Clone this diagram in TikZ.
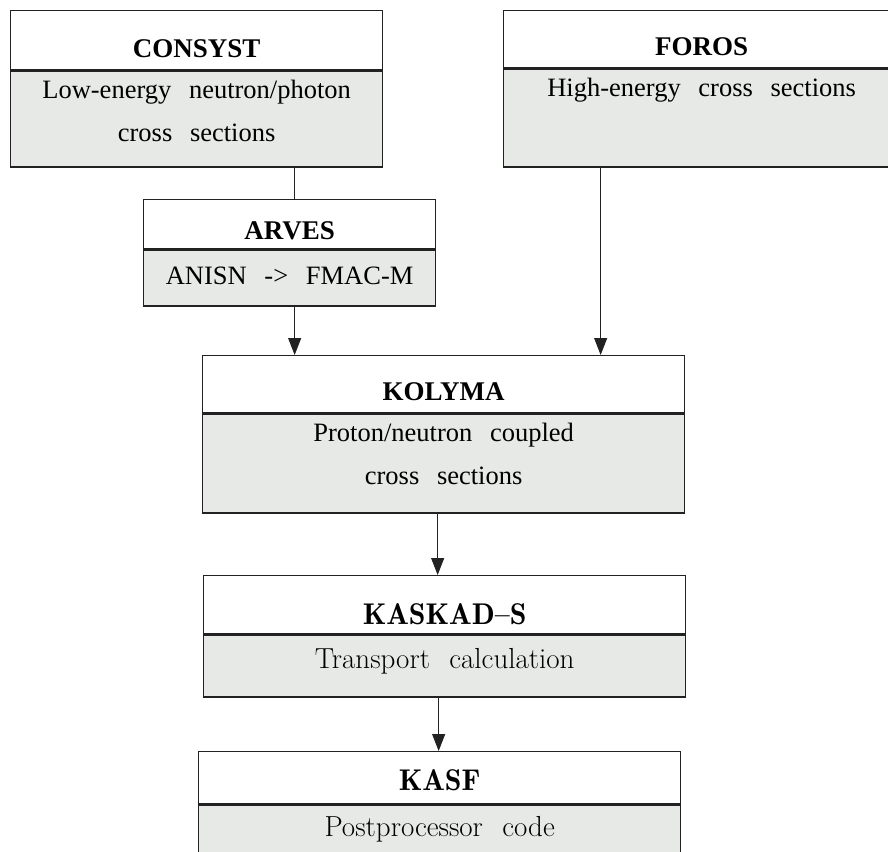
\documentclass[tikz,border=0pt]{standalone}
\usepackage{fontspec}
\setmainfont{Liberation Serif}
\usetikzlibrary{positioning, arrows.meta}

\definecolor{boxgrey}{RGB}{230,233,229}
\definecolor{edgegrey}{RGB}{34,34,34}

\tikzset{
 head/.style={draw=edgegrey, line width=1.3pt, fill=white, inner sep=0pt, align=center, font=\fontsize{27}{30}\selectfont\bfseries},
 body/.style={draw=edgegrey, line width=1.3pt, fill=boxgrey, inner sep=0pt, align=center, text height=28pt, font=\fontsize{26.5}{43}\selectfont},
 lmhead/.style={head, font=\fontsize{30}{30}\fontfamily{lmr}\selectfont\bfseries},
 lmbody/.style={body, font=\fontsize{29}{43}\fontfamily{lmr}\selectfont},
 conn/.style={draw=edgegrey, line width=1pt},
 arr/.style={conn, -{Triangle[length=17pt,width=13pt]}},
}

\begin{document}
\begin{tikzpicture}[x=1pt, y=-1pt]
\useasboundingbox (0,0) rectangle (888,851);
\clip (0,0) rectangle (888,851);

% top row
\node[head, text width=372pt, text height=47pt, text depth=12pt, anchor=north west] (consysth) at (10,10) {CONSYST};
\node[body, text width=372pt, text depth=68pt, below=0pt of consysth] (consystb) {Low-energy~ neutron/photon\\cross~ sections};

\node[head, text width=396pt, text height=45pt, text depth=12pt, anchor=north west] (forosh) at (503,10) {FOROS};
\node[body, text width=396pt, text depth=70pt, below=0pt of forosh] (forosb) {High-energy~ cross~ sections};

\node[head, text width=292pt, text height=40pt, text depth=9pt, anchor=north west] (arvesh) at (143,199) {ARVES};
\node[body, text width=292pt, text height=35pt, text depth=21pt, below=0pt of arvesh] (arvesb) {ANISN~ ->~ FMAC-M};

% middle and bottom
\node[head, text width=482pt, text height=45pt, text depth=12pt, anchor=north west] (kolymah) at (202,355) {KOLYMA};
\node[body, text width=482pt, text depth=71pt, below=0pt of kolymah] (kolymab) {Proton/neutron~ coupled\\cross~ sections};

\node[lmhead, text width=482pt, text height=49pt, text depth=9pt, anchor=north west] (kaskadh) at (203,575) {KASKAD--S};
\node[lmbody, text width=482pt, text height=34pt, text depth=28pt, below=0pt of kaskadh] (kaskadb) {Transport~ calculation};

\node[lmhead, text width=482pt, text height=39pt, text depth=13pt, anchor=north west] (kasfh) at (198,751) {KASF};
\node[lmbody, text width=482pt, text height=32pt, text depth=40pt, below=0pt of kasfh] (kasfb) {Postprocessor~ code};

% connectors
\coordinate (lx) at ([xshift=5pt]arvesh.north);
\coordinate (fx) at ([xshift=157pt]kolymah.north);
\coordinate (kx) at ([xshift=-6pt]kolymab.south);
\draw[conn] (consystb.south -| lx) -- (lx);
\draw[arr] (arvesb.south -| lx) -- (kolymah.north -| lx);
\draw[arr] (forosb.south -| fx) -- (fx);
\draw[arr] (kx) -- (kx |- kaskadh.north);
\draw[arr] ([xshift=-6pt]kaskadb.south) -- ([xshift=-6pt]kaskadb.south |- kasfh.north);

\end{tikzpicture}
\end{document}
